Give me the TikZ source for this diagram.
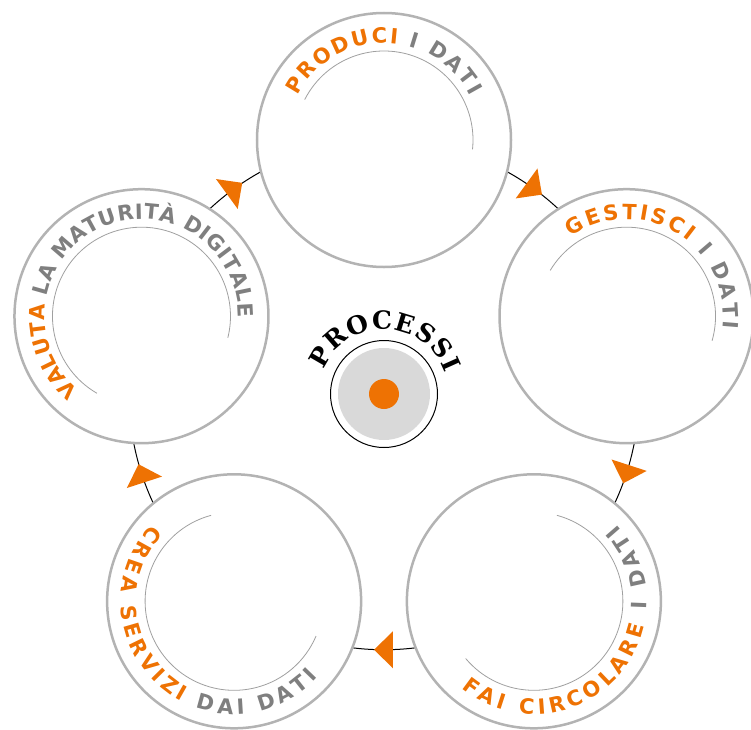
\documentclass[tikz,border=0pt]{standalone}
\usepackage{fontspec}
\usetikzlibrary{decorations.text,decorations.markings}

\newfontfamily\sansfont{DejaVu Sans}
\newfontfamily\titlefont{DejaVu Serif}
\newcommand\etichetta{\sansfont\bfseries\fontsize{21}{25}\selectfont}
\newcommand\titolo{\titlefont\bfseries\fontsize{25}{28}\selectfont}

\definecolor{Arancio}{HTML}{EE7203}
\definecolor{Grigio}{HTML}{7F7F7F}
\definecolor{Anello}{HTML}{B3B3B3}
\definecolor{Interno}{HTML}{A0A0A0}
\definecolor{Disco}{HTML}{D9D9D9}

\tikzset{
  cerchio/.style={circle, draw=Anello, line width=2.5pt, fill=white, minimum size=254pt, inner sep=0pt},
  interno/.style={draw=Interno, line width=0.8pt},
  collega/.style={line width=1pt, bend left=36, looseness=0.94, postaction={decorate},
    decoration={markings, mark=at position 0.5 with {\fill[Arancio] (10pt,0pt) -- (-9pt,18.5pt) -- (-9pt,-18.5pt) -- cycle;}}},
}

\begin{document}
\begin{tikzpicture}[x=1pt, y=1pt]

 \useasboundingbox (-384,-334) rectangle (367,395);

 %%%%%%%%%% Centri dei cerchi %%%%%%%%%%
 \foreach \i/\a in {1/90, 2/18, 3/-54, 4/-126, 5/162}
 {
   \coordinate (c\i) at (\a:255);
 }

 %%%%%%%%%% Collegamenti %%%%%%%%%%
 \foreach \i/\j in {1/2, 2/3, 3/4, 4/5, 5/1}
 {
   \draw [collega] (c\i) to (c\j);
 }

 %%%%%%%%%% Cerchi %%%%%%%%%%
 \node [cerchio] (produci) at (c1) {};
 \node [cerchio] (gestisci) at (c2) {};
 \node [cerchio] (circolare) at (c3) {};
 \node [cerchio] (servizi) at (c4) {};
 \node [cerchio] (valuta) at (c5) {};

 %%%%%%%%%% Archi interni %%%%%%%%%%
 \draw [interno] (produci.center) ++(153:89) arc[start angle=153, end angle=-6, radius=89];
 \draw [interno] (gestisci.center) ++(149:89) arc[start angle=149, end angle=-16, radius=89];
 \draw [interno] (circolare.center) ++(220:89) arc[start angle=220, end angle=435, radius=89];
 \draw [interno] (servizi.center) ++(105:89) arc[start angle=105, end angle=337, radius=89];
 \draw [interno] (valuta.center) ++(240:89) arc[start angle=240, end angle=-14, radius=89];

 %%%%%%%%%% Testi sui cerchi %%%%%%%%%%
 \path [decorate, decoration={text along path, text align={fit to path},
   text={|\etichetta\color{Arancio}|PRODUCI |\etichetta\color{Grigio}|I DATI}}]
   (produci.center) ++(153:97) arc[start angle=153, end angle=27, radius=97];
 \path [decorate, decoration={text along path, text align={fit to path},
   text={|\etichetta\color{Arancio}|GESTISCI |\etichetta\color{Grigio}|I DATI}}]
   (gestisci.center) ++(125:97) arc[start angle=125, end angle=-7, radius=97];
 \path [decorate, decoration={text along path, text align={fit to path},
   text={|\etichetta\color{Arancio}|FAI CIRCOLARE |\etichetta\color{Grigio}|I DATI}}]
   (circolare.center) ++(230:113) arc[start angle=230, end angle=403, radius=113];
 \path [decorate, decoration={text along path, text align={fit to path},
   text={|\etichetta\color{Arancio}|CREA SERVIZI |\etichetta\color{Grigio}|DAI DATI}}]
   (servizi.center) ++(137:113) arc[start angle=137, end angle=318, radius=113];
 \path [decorate, decoration={text along path, text align={fit to path},
   text={|\etichetta\color{Arancio}|VALUTA |\etichetta\color{Grigio}|LA MATURITÀ DIGITALE}}]
   (valuta.center) ++(230:97) arc[start angle=230, end angle=-1, radius=97];

 %%%%%%%%%% Processi %%%%%%%%%%
 \node [circle, draw=black, line width=1pt, minimum size=107pt, inner sep=0pt] (centro) at (0,1) {};
 \node [circle, fill=Disco, minimum size=92pt, inner sep=0pt] (disco) at (centro) {};
 \node [circle, fill=Arancio, minimum size=30pt, inner sep=0pt] (punto) at (centro) {};
 \path [decorate, decoration={text along path, text align={fit to path},
   text={|\titolo|PROCESSI}}]
   (centro.center) ++(158:65) arc[start angle=158, end angle=19, radius=65];

\end{tikzpicture}
\end{document}
